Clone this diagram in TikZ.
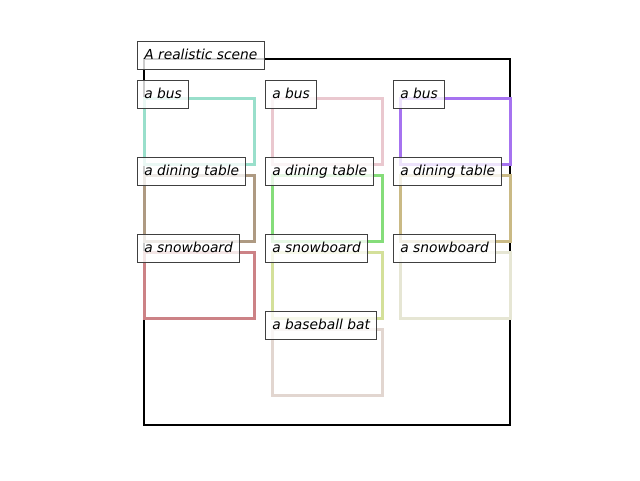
\documentclass[tikz,border=0pt]{standalone}
\usepackage{fontspec}
\setmainfont{DejaVu Sans}
\definecolor{cbusA}{HTML}{99DFCB}
\definecolor{cbusB}{HTML}{EAC8CF}
\definecolor{cbusC}{HTML}{A673F0}
\definecolor{ctabA}{HTML}{AE9A82}
\definecolor{ctabB}{HTML}{85DD7A}
\definecolor{ctabC}{HTML}{CABA85}
\definecolor{csnoA}{HTML}{CC8286}
\definecolor{csnoB}{HTML}{D4E09A}
\definecolor{csnoC}{HTML}{E6E6D4}
\definecolor{cbat}{HTML}{E2D6D0}
\definecolor{cedge}{HTML}{404040}
\tikzset{
  bx/.style={line width=3pt},
  lbl/.style={draw=cedge, line width=1pt, fill=white, fill opacity=0.8, text opacity=1,
    inner xsep=6.8pt, inner ysep=7pt, text height=10.3pt, text depth=3.4pt, anchor=base west,
    font=\fontsize{13.8}{16}\selectfont\itshape},
  frame/.style={line width=2.2pt, black}
}
\begin{document}
\begin{tikzpicture}[x=1pt,y=-1pt]
\useasboundingbox (0,0) rectangle (640,480);
\draw[frame] (144,59) rectangle (510,425);
% boxes
\draw[bx, cbusA] (144,98) rectangle (254,164);
\draw[bx, cbusB] (272,98) rectangle (382,164);
\draw[bx, cbusC] (400,98) rectangle (510,164);
\draw[bx, ctabA] (144,175) rectangle (254,241);
\draw[bx, ctabB] (272,175) rectangle (382,241);
\draw[bx, ctabC] (400,175) rectangle (510,241);
\draw[bx, csnoA] (144,252) rectangle (254,318);
\draw[bx, csnoB] (272,252) rectangle (382,318);
\draw[bx, csnoC] (400,252) rectangle (510,318);
\draw[bx, cbat] (272,329) rectangle (382,395);
% labels
\node[lbl] (title) at (137,59) {A realistic scene};
\node[lbl] (busA) at (137,98) {a bus};
\node[lbl] (busB) at (265,98) {a bus};
\node[lbl] (busC) at (393,98) {a bus};
\node[lbl] (tabA) at (137,175) {a dining table};
\node[lbl] (tabB) at (265,175) {a dining table};
\node[lbl] (tabC) at (393,175) {a dining table};
\node[lbl] (snoA) at (137,252) {a snowboard};
\node[lbl] (snoB) at (265,252) {a snowboard};
\node[lbl] (snoC) at (393,252) {a snowboard};
\node[lbl] (bat) at (265,329) {a baseball bat};
\end{tikzpicture}
\end{document}
